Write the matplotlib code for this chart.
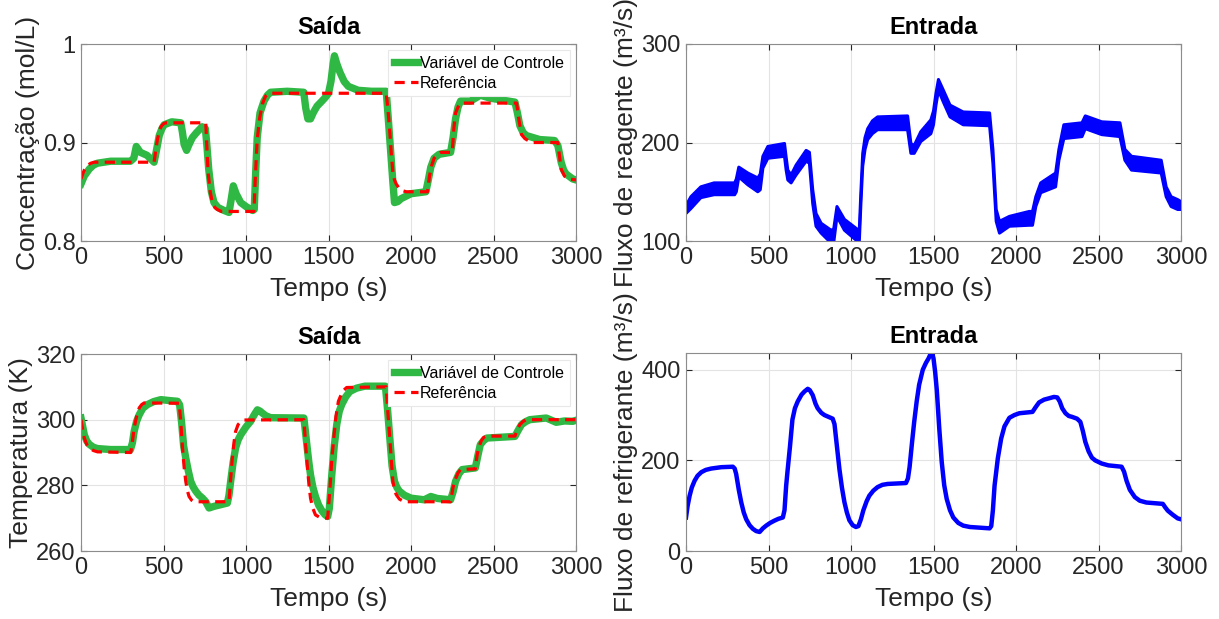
import matplotlib
matplotlib.use("Agg")
import matplotlib.pyplot as plt

# ---------------- data ----------------
# Concentration (mol/L): controlled variable and setpoint
conc_t = [0, 20, 50, 75, 100, 180, 300, 320, 335, 360, 400, 443, 455, 474, 490,
          504, 550, 605, 615, 625, 640, 655, 675, 700, 734, 754, 764, 774, 790,
          806, 830, 867, 897, 910, 923, 940, 968, 1000, 1040, 1050, 1060, 1068,
          1085, 1109, 1130, 1149, 1250, 1350, 1362, 1375, 1391, 1410, 1431, 1460,
          1482, 1500, 1515, 1528, 1536, 1550, 1570, 1595, 1620, 1680, 1760, 1850,
          1862, 1875, 1890, 1900, 1920, 1940, 2000, 2090, 2105, 2120, 2140, 2170,
          2240, 2255, 2270, 2285, 2300, 2360, 2420, 2480, 2630, 2645, 2660, 2680,
          2700, 2780, 2870, 2890, 2910, 2925, 2940, 2980, 3000]
conc_y = [0.858, 0.866, 0.873, 0.877, 0.879, 0.881, 0.881, 0.884, 0.896, 0.890,
          0.887, 0.880, 0.890, 0.907, 0.914, 0.918, 0.921, 0.920, 0.910, 0.898,
          0.892, 0.898, 0.905, 0.910, 0.916, 0.914, 0.895, 0.873, 0.850, 0.839,
          0.834, 0.831, 0.829, 0.842, 0.856, 0.848, 0.839, 0.835, 0.831, 0.832,
          0.875, 0.905, 0.930, 0.942, 0.948, 0.951, 0.952, 0.951, 0.935, 0.924,
          0.924, 0.931, 0.937, 0.942, 0.946, 0.950, 0.962, 0.980, 0.988, 0.980,
          0.971, 0.962, 0.957, 0.953, 0.952, 0.952, 0.925, 0.895, 0.860, 0.839,
          0.840, 0.843, 0.848, 0.850, 0.862, 0.875, 0.884, 0.888, 0.890, 0.905,
          0.924, 0.936, 0.942, 0.942, 0.948, 0.945, 0.941, 0.930, 0.917, 0.910,
          0.907, 0.903, 0.902, 0.897, 0.880, 0.872, 0.868, 0.863, 0.862]
conc_ref_t = [0, 10, 20, 40, 60, 80, 443, 453, 463, 474, 484, 500, 514, 756, 763,
              770, 783, 796, 811, 826, 850, 1048, 1058, 1068, 1083, 1099, 1118,
              1139, 1850, 1860, 1870, 1880, 1890, 1900, 1910, 1930, 1950, 1970,
              2100, 2112, 2124, 2140, 2160, 2180, 2250, 2260, 2270, 2285, 2300,
              2640, 2655, 2670, 2690, 2710, 2730, 2890, 2900, 2910, 2930, 2950,
              3000]
conc_ref_y = [0.863, 0.868, 0.872, 0.877, 0.879, 0.880, 0.880, 0.892, 0.903,
              0.911, 0.916, 0.919, 0.920, 0.920, 0.895, 0.870, 0.850, 0.839,
              0.834, 0.832, 0.830, 0.830, 0.870, 0.903, 0.925, 0.939, 0.947,
              0.950, 0.950, 0.934, 0.914, 0.890, 0.870, 0.862, 0.858, 0.853,
              0.851, 0.850, 0.850, 0.866, 0.876, 0.884, 0.888, 0.890, 0.890,
              0.915, 0.930, 0.936, 0.940, 0.940, 0.922, 0.908, 0.904, 0.902,
              0.900, 0.900, 0.886, 0.873, 0.866, 0.863, 0.862]

# Reagent flow (m3/s): upper and lower edges of the oscillating input
reag_t = [0, 30, 90, 170, 295, 305, 320, 375, 435, 450, 466, 496, 597, 607, 617,
          637, 667, 728, 748, 768, 788, 819, 879, 895, 915, 960, 1030, 1050, 1060,
          1071, 1085, 1101, 1130, 1161, 1343, 1363, 1383, 1423, 1484, 1500, 1515,
          1530, 1560, 1600, 1680, 1840, 1860, 1880, 1900, 1960, 2080, 2100, 2120,
          2150, 2240, 2260, 2290, 2400, 2420, 2520, 2630, 2660, 2700, 2880, 2910,
          2940, 2980, 3000]
reag_hi = [136, 145, 155, 159, 159, 163, 175, 169, 164, 168, 186, 196, 199, 185,
           172, 167, 177, 192, 190, 152, 128, 118, 111, 112, 135, 122, 113, 110,
           150, 189, 205, 214, 222, 226, 227, 199, 197, 211, 223, 232, 250, 264,
           253, 238, 231, 230, 193, 132, 120, 125, 130, 130, 145, 159, 169, 193,
           218, 220, 227, 221, 220, 193, 186, 182, 155, 145, 142, 140]
reag_lo = [128, 133, 144, 147, 147, 150, 165, 157, 150, 152, 174, 184, 186, 172,
           162, 159, 167, 181, 179, 138, 115, 108, 98, 98, 125, 111, 101, 98,
           138, 176, 193, 203, 209, 213, 213, 189, 189, 201, 209, 218, 238, 253,
           241, 226, 218, 217, 179, 120, 108, 115, 116, 116, 135, 149, 155, 182,
           204, 206, 214, 208, 206, 182, 172, 169, 145, 135, 132, 132]

# Temperature (K): controlled variable and setpoint
temp_t = [0, 10, 20, 35, 50, 75, 100, 180, 300, 312, 322, 337, 353, 375, 403, 440,
          484, 540, 585, 598, 610, 622, 635, 650, 665, 680, 696, 715, 736, 756,
          776, 806, 887, 897, 907, 922, 937, 952, 968, 1000, 1028, 1050, 1069,
          1085, 1099, 1120, 1149, 1351, 1361, 1371, 1381, 1391, 1405, 1421, 1440,
          1462, 1480, 1495, 1505, 1520, 1535, 1550, 1565, 1580, 1605, 1630, 1670,
          1720, 1845, 1858, 1870, 1885, 1900, 1915, 1930, 1960, 2000, 2080, 2120,
          2160, 2240, 2255, 2270, 2290, 2310, 2390, 2405, 2420, 2440, 2460, 2630,
          2650, 2670, 2695, 2720, 2820, 2880, 2930, 2980, 3000]
temp_y = [300.5, 298.0, 295.4, 293.5, 292.5, 291.6, 291.2, 290.9, 290.9, 293.0,
          296.4, 299.5, 301.5, 303.5, 304.6, 305.5, 306.1, 305.8, 305.6, 304.5,
          299.0, 292.0, 288.3, 284.5, 281.2, 279.5, 278.2, 277.0, 276.1, 275.0,
          273.1, 273.6, 274.6, 277.0, 281.2, 287.0, 291.4, 293.8, 295.4, 297.8,
          299.5, 301.5, 303.0, 302.6, 302.0, 301.2, 300.6, 300.5, 296.0, 291.4,
          287.0, 283.2, 279.5, 276.6, 274.0, 272.1, 271.0, 270.5, 273.0, 283.2,
          292.0, 298.5, 302.5, 304.6, 307.0, 308.6, 309.6, 310.2, 310.2, 303.0,
          295.4, 286.0, 281.2, 279.3, 278.2, 277.0, 276.1, 275.6, 276.6, 276.0,
          275.6, 278.0, 281.2, 283.5, 284.8, 285.3, 289.0, 292.4, 293.6, 294.4,
          294.9, 296.8, 298.5, 299.4, 300.0, 300.5, 299.2, 299.6, 299.5, 299.8]
temp_ref_t = [0, 10, 20, 35, 50, 75, 100, 302, 312, 322, 337, 353, 368, 383, 595,
              605, 615, 625, 635, 645, 655, 670, 685, 897, 907, 917, 927, 937, 952,
              968, 990, 1351, 1361, 1371, 1381, 1391, 1405, 1421, 1445, 1472, 1495,
              1510, 1520, 1530, 1545, 1560, 1585, 1610, 1850, 1860, 1870, 1880,
              1890, 1900, 1910, 1930, 1960, 2240, 2255, 2270, 2285, 2300, 2390,
              2400, 2410, 2425, 2440, 2460, 2630, 2645, 2660, 2680, 2700, 3000]
temp_ref_y = [300.0, 297.0, 294.4, 292.4, 291.4, 290.6, 290.2, 290.0, 293.5,
              297.5, 301.0, 303.6, 304.6, 305.1, 305.0, 299.0, 291.4, 285.5,
              281.2, 278.3, 276.6, 275.5, 275.0, 275.0, 282.0, 288.3, 293.0,
              296.4, 298.5, 299.3, 299.9, 300.0, 292.5, 286.3, 280.5, 276.1,
              273.0, 271.0, 270.3, 270.0, 270.0, 280.0, 288.0, 293.4, 301.0,
              305.6, 308.6, 309.8, 310.0, 302.0, 295.4, 288.0, 281.2, 278.8,
              277.2, 275.8, 275.0, 275.0, 279.5, 282.0, 283.8, 284.8, 285.0,
              289.0, 291.4, 293.5, 294.6, 295.0, 295.0, 297.2, 298.5, 299.5,
              300.0, 300.0]

# Coolant flow (m3/s)
cool_t = [0, 10, 22, 35, 52, 70, 93, 120, 153, 214, 284, 295, 304, 320, 335, 350,
          365, 385, 405, 425, 446, 466, 486, 510, 536, 560, 587, 597, 607, 615,
          630, 645, 660, 677, 700, 718, 738, 750, 768, 785, 798, 820, 839, 870,
          889, 900, 915, 930, 945, 960, 975, 990, 1010, 1030, 1045, 1060, 1075,
          1095, 1111, 1135, 1161, 1190, 1222, 1333, 1345, 1355, 1370, 1383, 1398,
          1413, 1435, 1454, 1470, 1480, 1492, 1500, 1510, 1520, 1535, 1550, 1565,
          1580, 1600, 1620, 1650, 1680, 1720, 1760, 1840, 1850, 1860, 1870, 1890,
          1910, 1930, 1960, 1990, 2020, 2100, 2120, 2140, 2170, 2200, 2230, 2250,
          2265, 2280, 2300, 2320, 2340, 2370, 2390, 2405, 2420, 2440, 2460, 2480,
          2520, 2560, 2640, 2655, 2670, 2690, 2720, 2750, 2790, 2890, 2905, 2920,
          2950, 2980, 3000]
cool_y = [74, 100, 122, 140, 155, 166, 174, 179, 182, 185, 186, 182, 170, 135,
          107, 85, 70, 57, 49, 44, 42, 50, 56, 62, 67, 71, 74, 90, 144, 175, 230,
          290, 315, 330, 345, 352, 358, 355, 344, 325, 315, 305, 300, 295, 292,
          280, 230, 180, 140, 108, 85, 68, 57, 53, 55, 70, 90, 110, 122, 133, 141,
          146, 148, 150, 160, 185, 240, 285, 330, 367, 400, 415, 425, 433, 435,
          425, 395, 355, 270, 196, 145, 115, 90, 74, 62, 56, 53, 52, 50, 55, 90,
          144, 205, 248, 275, 294, 300, 304, 307, 318, 328, 334, 337, 340, 339,
          330, 315, 304, 298, 296, 292, 285, 265, 241, 220, 206, 200, 193, 189,
          186, 175, 155, 135, 119, 111, 107, 104, 96, 89, 80, 72, 70]

x_ticks = [0, 500, 1000, 1500, 2000, 2500, 3000]
xlabel = "Tempo (s)"
legend_labels = ["Variável de Controle", "Referência"]

# ---------------- style ----------------
plt.rcParams["font.family"] = ["Liberation Sans", "DejaVu Sans"]

GREEN = "#2fb844"
RED = "#ff0000"
BLUE = "#0000ff"
TICK_FS = 17
LABEL_FS = 19
TITLE_FS = 17

fig = plt.figure(figsize=(12.19, 6.19), dpi=100)
W, H = 1219, 619


def make_axes(x0, x1, y0, y1):
    return fig.add_axes([x0 / W, 1 - y1 / H, (x1 - x0) / W, (y1 - y0) / H])


def style(ax, ylim, yticks, yticklabels, ylabel, title):
    ax.set_xlim(0, 3000)
    ax.set_ylim(*ylim)
    ax.set_xticks(x_ticks)
    ax.set_xticklabels([str(v) for v in x_ticks])
    ax.set_yticks(yticks)
    ax.set_yticklabels(yticklabels)
    ax.grid(True, color="#e3e3e3", linewidth=0.8)
    ax.set_axisbelow(True)
    ax.tick_params(direction="in", length=4, width=0.8, top=True, right=True,
                   labelsize=TICK_FS, colors="#262626", pad=4)
    for s in ax.spines.values():
        s.set_color("#8c8c8c")
        s.set_linewidth(0.8)
    ax.set_xlabel(xlabel, fontsize=LABEL_FS, color="#262626", labelpad=6)
    ax.set_ylabel(ylabel, fontsize=LABEL_FS, color="#262626", labelpad=2)
    ax.set_title(title, fontsize=TITLE_FS, fontweight="bold", pad=7)


def add_legend(ax):
    leg = ax.legend(legend_labels, loc="upper right", fontsize=11.5,
                    handlelength=1.5, handletextpad=0.15, borderpad=0.35,
                    labelspacing=0.3, borderaxespad=0.4, fancybox=False,
                    framealpha=1, edgecolor="#e8e8e8")
    leg.get_frame().set_linewidth(0.8)


dash = (3.2, 2.0)

# Concentration
ax1 = make_axes(81, 576, 44, 241)
ax1.plot(conc_t, conc_y, color=GREEN, linewidth=5.3, solid_joinstyle="round")
ax1.plot(conc_ref_t, conc_ref_y, color=RED, linewidth=2.3, dashes=dash)
style(ax1, (0.8, 1.0), [0.8, 0.9, 1.0], ["0.8", "0.9", "1"],
      "Concentração (mol/L)", "Saída")
add_legend(ax1)

# Reagent flow
ax2 = make_axes(686, 1181, 44, 241)
ax2.fill_between(reag_t, reag_lo, reag_hi, color=BLUE, linewidth=0)
ax2.plot(reag_t, reag_hi, color=BLUE, linewidth=2.2, solid_joinstyle="round")
ax2.plot(reag_t, reag_lo, color=BLUE, linewidth=2.2, solid_joinstyle="round")
style(ax2, (100, 300), [100, 200, 300], ["100", "200", "300"],
      "Fluxo de reagente (m³/s)", "Entrada")

# Temperature
ax3 = make_axes(81, 576, 354, 551)
ax3.plot(temp_t, temp_y, color=GREEN, linewidth=5.3, solid_joinstyle="round")
ax3.plot(temp_ref_t, temp_ref_y, color=RED, linewidth=2.3, dashes=dash)
style(ax3, (260, 320), [260, 280, 300, 320], ["260", "280", "300", "320"],
      "Temperatura (K)", "Saída")
add_legend(ax3)

# Coolant flow
ax4 = make_axes(686, 1181, 353, 551)
ax4.plot(cool_t, cool_y, color=BLUE, linewidth=3.2, solid_joinstyle="round")
style(ax4, (0, 437), [0, 200, 400], ["0", "200", "400"],
      "Fluxo de refrigerante (m³/s)", "Entrada")

fig.savefig("out.png", dpi=100)
